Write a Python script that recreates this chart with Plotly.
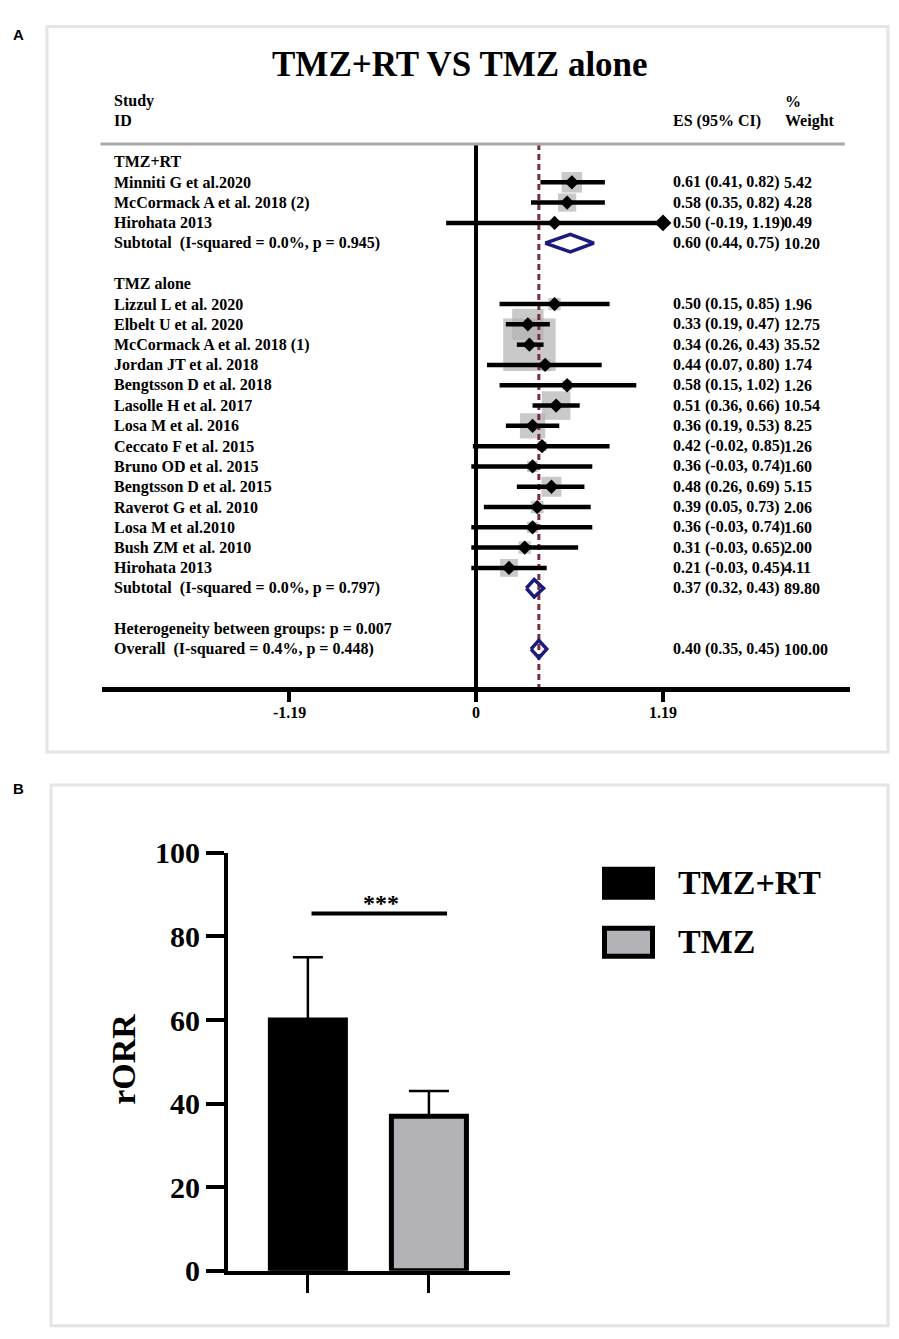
import math
import plotly.graph_objects as go

# the page shows the figure 8px in, 24.6px down and squeezed to 0.975 vertically,
# so target positions (picture pixels) are converted back through that
LEFT, TOP, SY = 8, 24.6, 0.975
W = 899 - 2 * LEFT
H = math.ceil(1339 / SY - TOP) + 2

# ---------------- panel A : forest plot data ----------------
rt_studies = ["Minniti G et al.2020", "McCormack A et al. 2018 (2)", "Hirohata 2013"]
rt_es = [0.61, 0.58, 0.50]
rt_lo = [0.41, 0.35, -0.19]
rt_hi = [0.82, 0.82, 1.19]
rt_wt = [5.42, 4.28, 0.49]

tmz_studies = ["Lizzul L et al. 2020", "Elbelt U et al. 2020", "McCormack A et al. 2018 (1)",
               "Jordan JT et al. 2018", "Bengtsson D et al. 2018", "Lasolle H et al. 2017",
               "Losa M et al. 2016", "Ceccato F et al. 2015", "Bruno OD et al. 2015",
               "Bengtsson D et al. 2015", "Raverot G et al. 2010", "Losa M et al.2010",
               "Bush ZM et al. 2010", "Hirohata 2013"]
tmz_es = [0.50, 0.33, 0.34, 0.44, 0.58, 0.51, 0.36, 0.42, 0.36, 0.48, 0.39, 0.36, 0.31, 0.21]
tmz_lo = [0.15, 0.19, 0.26, 0.07, 0.15, 0.36, 0.19, -0.02, -0.03, 0.26, 0.05, -0.03, -0.03, -0.03]
tmz_hi = [0.85, 0.47, 0.43, 0.80, 1.02, 0.66, 0.53, 0.85, 0.74, 0.69, 0.73, 0.74, 0.65, 0.45]
tmz_wt = [1.96, 12.75, 35.52, 1.74, 1.26, 10.54, 8.25, 1.26, 1.60, 5.15, 2.06, 1.60, 2.00, 4.11]

group_names = ["TMZ+RT", "TMZ alone"]
subtotal_labels = ["Subtotal\u00a0\u00a0(I-squared = 0.0%, p = 0.945)",
                   "Subtotal\u00a0\u00a0(I-squared = 0.0%, p = 0.797)"]
subtotal_es = [0.60, 0.37]
subtotal_lo = [0.44, 0.32]
subtotal_hi = [0.75, 0.43]
subtotal_wt = [10.20, 89.80]

heterogeneity_label = "Heterogeneity between groups: p = 0.007"
overall_label = "Overall\u00a0\u00a0(I-squared = 0.4%, p = 0.448)"
overall_es, overall_lo, overall_hi, overall_wt = 0.40, 0.35, 0.45, 100.00

x_ticks = [-1.19, 0, 1.19]
x_ticktext = ["-1.19", "0", "1.19"]

# ---------------- panel B : bar chart data ----------------
bar_groups = ["TMZ+RT", "TMZ"]
rorr = [60, 37]
rorr_err = [15, 6]
y_ticks = [0, 20, 40, 60, 80, 100]


# picture pixel -> paper fraction
def px_x(p):
    return (p - LEFT) / W


def px_y(p):
    return 1 - (p / SY - TOP) / H


serif = "Liberation Serif"
f16 = dict(family=serif, size=16, color="black", weight="bold")

# lay the rows out one after another
sq_r, sq_x, sq_w = [], [], []
ci_x, ci_y = [], []
arrow_x, arrow_y = [], []
dia_x, dia_y = [], []
text_rows = []      # (row, label)
es_rows = []        # (row, es text, weight text)

groups = [(rt_studies, rt_es, rt_lo, rt_hi, rt_wt),
          (tmz_studies, tmz_es, tmz_lo, tmz_hi, tmz_wt)]
r = 0
for g, (names, es, lo, hi, wt) in enumerate(groups):
    text_rows.append((r, group_names[g]))
    r += 1
    for i in range(len(names)):
        text_rows.append((r, names[i]))
        es_rows.append((r, f"{es[i]:.2f} ({lo[i]:.2f}, {hi[i]:.2f})", f"{wt[i]:.2f}"))
        sq_r.append(r)
        sq_x.append(es[i])
        sq_w.append(wt[i])
        ci_x += [lo[i], hi[i], None]
        ci_y += [r, r, None]
        if hi[i] >= max(x_ticks):
            arrow_x.append(hi[i])
            arrow_y.append(r)
        r += 1
    text_rows.append((r, subtotal_labels[g]))
    es_rows.append((r, f"{subtotal_es[g]:.2f} ({subtotal_lo[g]:.2f}, {subtotal_hi[g]:.2f})",
                    f"{subtotal_wt[g]:.2f}"))
    dia_x += [subtotal_lo[g], subtotal_es[g], subtotal_hi[g], subtotal_es[g], subtotal_lo[g], None]
    dia_y += [r, r - 0.43, r, r + 0.43, r, None]
    r += 2
text_rows.append((r, heterogeneity_label))
r += 1
text_rows.append((r, overall_label))
es_rows.append((r, f"{overall_es:.2f} ({overall_lo:.2f}, {overall_hi:.2f})", f"{overall_wt:.2f}"))
dia_x += [overall_lo, overall_es, overall_hi, overall_es, overall_lo]
dia_y += [r, r - 0.43, r, r + 0.43, r]

y_top, y_bot = -0.887, 25.862

fig = go.Figure()

fig.add_trace(go.Scatter(x=sq_x, y=sq_r, mode="markers", xaxis="x", yaxis="y",
                         marker=dict(symbol="square", color="#b2b2b2",
                                     size=[8.8 * math.sqrt(w) for w in sq_w], line=dict(width=0)),
                         showlegend=False, hoverinfo="skip"))
fig.add_trace(go.Scatter(x=[overall_es, overall_es], y=[y_top, y_bot], mode="lines",
                         line=dict(color="#7b2d3c", width=3, dash="6px,4px"),
                         xaxis="x", yaxis="y", showlegend=False, hoverinfo="skip"))
fig.add_trace(go.Scatter(x=ci_x, y=ci_y, mode="lines", line=dict(color="black", width=4.5),
                         xaxis="x", yaxis="y", showlegend=False, hoverinfo="skip"))
fig.add_trace(go.Scatter(x=arrow_x, y=arrow_y, mode="markers",
                         marker=dict(symbol="diamond", size=13, color="black"),
                         xaxis="x", yaxis="y", showlegend=False, hoverinfo="skip"))
fig.add_trace(go.Scatter(x=sq_x, y=sq_r, mode="markers",
                         marker=dict(symbol="diamond", size=11, color="black"),
                         xaxis="x", yaxis="y", showlegend=False, hoverinfo="skip"))
fig.add_trace(go.Scatter(x=dia_x, y=dia_y, mode="lines", line=dict(color="#1b1b7e", width=3.5),
                         xaxis="x", yaxis="y", showlegend=False, hoverinfo="skip"))

# ---------------- panel B traces ----------------
fills = ["black", "#b2b2b7"]
cap_w = [15, 20]
for i in range(len(bar_groups)):
    fig.add_trace(go.Bar(x=[i], y=[rorr[i]], width=0.62, name=bar_groups[i],
                         marker=dict(color=fills[i], line=dict(color="black", width=5)),
                         error_y=dict(type="data", symmetric=False, array=[rorr_err[i]],
                                      arrayminus=[0], color="black", thickness=2.5, width=cap_w[i]),
                         xaxis="x2", yaxis="y2", showlegend=False, hoverinfo="skip"))

annotations = []
annotations.append(dict(text="TMZ+RT VS TMZ alone", x=px_x(460), y=px_y(63), xref="paper", yref="paper",
                        showarrow=False, xanchor="center", yanchor="middle",
                        font=dict(family=serif, size=35, color="black", weight="bold")))
for t, xx, yy in [("Study", 112, 100), ("ID", 112, 120), ("ES (95% CI)", 671, 120),
                  ("%", 783, 100), ("Weight", 783, 120)]:
    annotations.append(dict(text=t, x=px_x(xx), y=px_y(yy), xref="paper", yref="paper",
                            showarrow=False, xanchor="left", yanchor="middle", font=f16))
for row, t in text_rows:
    annotations.append(dict(text=t, x=px_x(112), y=row, xref="paper", yref="y",
                            showarrow=False, xanchor="left", yanchor="middle", font=f16))
for row, t, wt in es_rows:
    annotations.append(dict(text=t, x=px_x(671), y=row, xref="paper", yref="y",
                            showarrow=False, xanchor="left", yanchor="middle", font=f16))
    annotations.append(dict(text=wt, x=px_x(782), y=row, xref="paper", yref="y",
                            showarrow=False, xanchor="left", yanchor="middle", font=f16))
# forest axis tick labels
for v, t in zip(x_ticks, x_ticktext):
    annotations.append(dict(text=t, x=v, y=px_y(712), xref="x", yref="paper",
                            showarrow=False, xanchor="center", yanchor="middle", font=f16))

for t, yy in [("A", 33), ("B", 788)]:
    annotations.append(dict(text=t, x=px_x(18), y=px_y(yy), xref="paper", yref="paper",
                            showarrow=False, xanchor="center", yanchor="middle",
                            font=dict(family="Liberation Sans", size=15, color="black", weight="bold")))

# panel B texts
annotations.append(dict(text="rORR", x=px_x(124), y=px_y(1058), xref="paper", yref="paper",
                        showarrow=False, textangle=-90, xanchor="center", yanchor="middle",
                        font=dict(family=serif, size=34, color="black", weight="bold")))
annotations.append(dict(text="***", x=0.6, y=88, xref="x2", yref="y2", showarrow=False,
                        xanchor="center", yanchor="middle",
                        font=dict(family=serif, size=24, color="black", weight="bold")))
for t, yy in [(bar_groups[0], 882), (bar_groups[1], 941)]:
    annotations.append(dict(text=t, x=px_x(676), y=px_y(yy), xref="paper", yref="paper",
                            showarrow=False, xanchor="left", yanchor="middle",
                            font=dict(family=serif, size=34, color="black", weight="bold")))

shapes = [
    # panel frames
    dict(type="rect", xref="paper", yref="paper", x0=px_x(47), x1=px_x(888), y0=px_y(751),
         y1=1 - 1.5 / H, line=dict(color="#e4e4e4", width=3)),
    dict(type="rect", xref="paper", yref="paper", x0=px_x(51), x1=px_x(888), y0=px_y(1325), y1=px_y(784),
         line=dict(color="#e4e4e4", width=3)),
    # header rule
    dict(type="line", xref="x domain", yref="y domain", x0=-0.002, x1=0.993, y0=1, y1=1,
         line=dict(color="#a8a8a8", width=3)),
    # significance bar
    dict(type="line", xref="x2", yref="y2", x0=0.03, x1=1.15, y0=85.5, y1=85.5,
         line=dict(color="black", width=4)),
    # legend keys
    dict(type="rect", xref="paper", yref="paper", x0=px_x(602), x1=px_x(655), y0=px_y(899), y1=px_y(866),
         fillcolor="black", line=dict(color="black", width=0)),
    dict(type="rect", xref="paper", yref="paper", x0=px_x(604.5), x1=px_x(652.5), y0=px_y(955.5),
         y1=px_y(927.5), fillcolor=fills[1], line=dict(color="black", width=5)),
]

fig.update_layout(
    width=W, height=H, margin=dict(l=0, r=0, t=0, b=0),
    paper_bgcolor="white", plot_bgcolor="rgba(0,0,0,0)",
    xaxis=dict(domain=[px_x(102), px_x(850)], range=[-2.38, 2.38], anchor="y",
               tickvals=x_ticks, showticklabels=False, showgrid=False,
               showline=True, linecolor="black", linewidth=5,
               ticks="outside", ticklen=10, tickwidth=4, tickcolor="black",
               zeroline=True, zerolinecolor="black", zerolinewidth=4),
    yaxis=dict(domain=[px_y(686), px_y(143)], range=[y_bot, y_top], anchor="x",
               visible=False, showgrid=False, zeroline=False),
    xaxis2=dict(domain=[px_x(228), px_x(510)], range=[-0.66, 1.67], anchor="y2",
                tickvals=[0, 1], showticklabels=False, showgrid=False, zeroline=False,
                showline=True, linecolor="black", linewidth=4,
                ticks="outside", ticklen=18, tickwidth=3, tickcolor="black"),
    yaxis2=dict(domain=[px_y(1270), px_y(852)], range=[0, 100], anchor="x2",
                tickvals=y_ticks, showgrid=False, zeroline=False,
                showline=True, linecolor="black", linewidth=4,
                ticks="outside", ticklen=18, tickwidth=4, tickcolor="black",
                tickfont=dict(family=serif, size=30, color="black", weight="bold")),
    annotations=annotations,
    shapes=shapes,
)

fig.write_html("out.html")
